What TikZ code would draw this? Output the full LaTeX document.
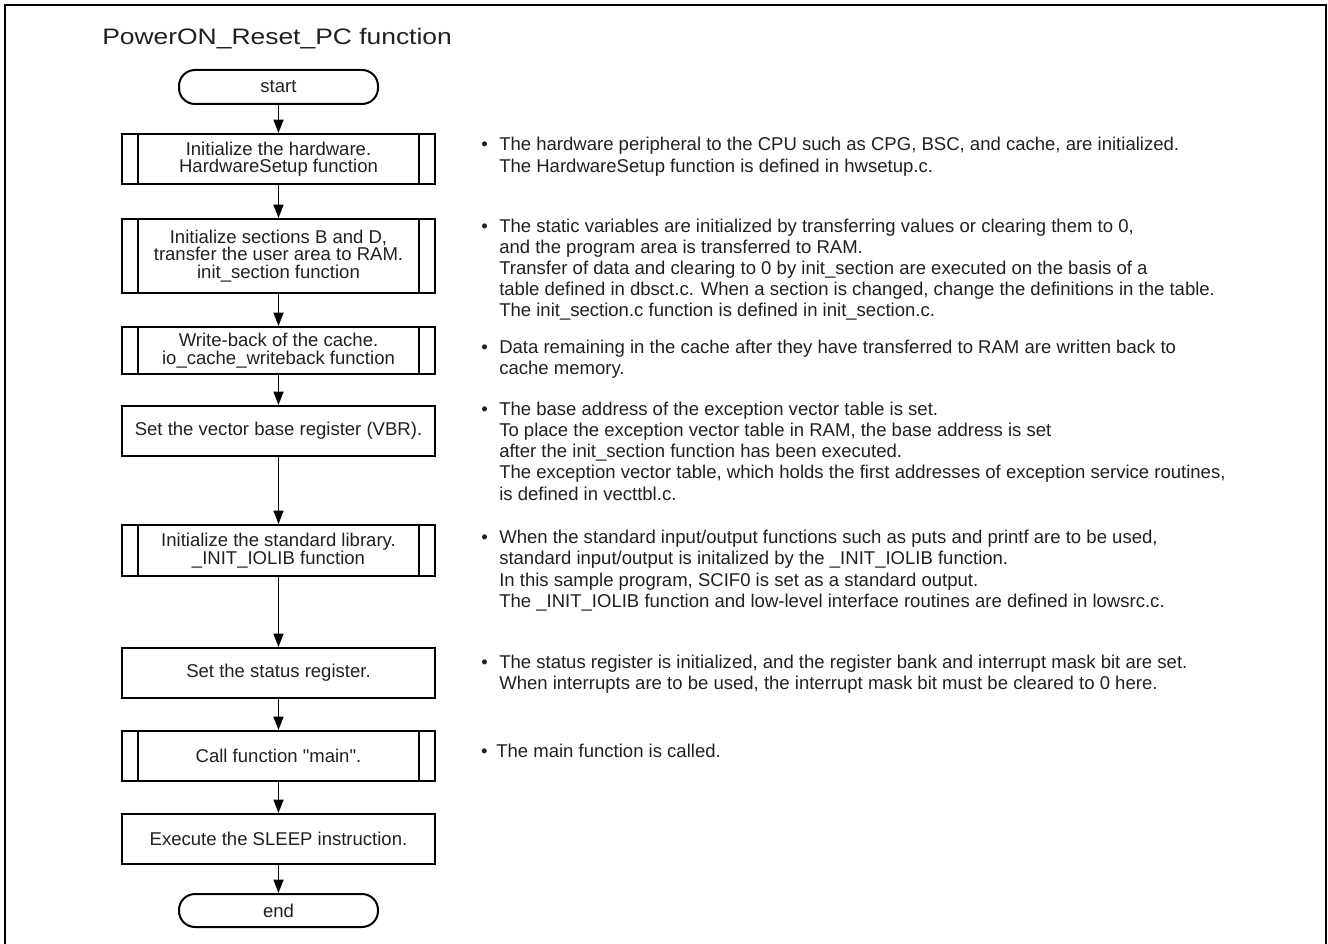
\documentclass[tikz,border=0pt]{standalone}
\usepackage{fontspec}
\setmainfont{Liberation Sans}[Ligatures=TeXOff]
\newfontfamily\titlefont[FakeStretch=1.18]{Liberation Sans}
\usetikzlibrary{arrows.meta}
\definecolor{ink}{RGB}{35,31,32}
\begin{document}
\begin{tikzpicture}[x=0.75pt,y=-0.75pt,
  box/.style={draw=black, line width=1.5pt, text=ink, minimum width=234.75pt, inner sep=0pt, align=center, font=\fontsize{13.9pt}{13.1pt}\selectfont},
  term/.style={box, rounded corners=12pt, minimum width=149.25pt},
  arr/.style={draw=black, line width=1pt, -{Triangle[length=10pt,width=7.5pt]}},
  sideline/.style={draw=black, line width=1.5pt},
  note/.style={anchor=north west, inner sep=0pt, align=left, text=ink, font=\fontsize{13.9pt}{15.9pt}\selectfont},
  frame/.style={draw=black, line width=1.5pt}
]
\useasboundingbox (0,0) rectangle (1328,944);
\draw[frame] (5,944) -- (5,5) -- (1326,5) -- (1326,944);

\node[anchor=base west, inner sep=0pt, text=ink, font=\titlefont\fontsize{16.8pt}{20pt}\selectfont] (title) at (102,44.3) {PowerON\_Reset\_PC function};

% flowchart
\node[term, minimum height=25.5pt] (start) at (278.5,87) {start};
\node[box, minimum height=37.5pt] (b1) at (278.5,159) {Initialize the hardware.\\HardwareSetup function};
\node[box, minimum height=55.5pt] (b2) at (278.5,256) {Initialize sections B and D,\\transfer the user area to RAM.\\init\_section function};
\node[box, minimum height=35.25pt] (b3) at (278.5,350.5) {Write-back of the cache.\\io\_cache\_writeback function};
\node[box, minimum height=37.5pt] (b4) at (278.5,431) {Set the vector base register (VBR).};
\node[box, minimum height=38.25pt] (b5) at (278.5,550.5) {Initialize the standard library.\\\_INIT\_IOLIB function};
\node[box, minimum height=37.5pt] (b6) at (278.5,673) {Set the status register.};
\node[box, minimum height=37.5pt] (b7) at (278.5,756) {Call function "main".};
\node[box, minimum height=37.5pt] (b8) at (278.5,839) {Execute the SLEEP instruction.};
\node[term, minimum height=24.75pt] (end) at (278.5,910.5) {end};

\foreach \n in {b1,b2,b3,b5,b7}{
  \draw[sideline] ([xshift=13pt]\n.north west) -- ([xshift=13pt]\n.south west);
  \draw[sideline] ([xshift=-13pt]\n.north east) -- ([xshift=-13pt]\n.south east);
}

\draw[arr] (start.south) -- (b1.north);
\draw[arr] (b1.south) -- (b2.north);
\draw[arr] (b2.south) -- (b3.north);
\draw[arr] (b3.south) -- (b4.north);
\draw[arr] (b4.south) -- (b5.north);
\draw[arr] (b5.south) -- (b6.north);
\draw[arr] (b6.south) -- (b7.north);
\draw[arr] (b7.south) -- (b8.north);
\draw[arr] (b8.south) -- (end.north);

% notes
\node[note] (n1) at (499,135.7) {\strut\llap{•\hspace{8.5pt}}The hardware peripheral to the CPU such as CPG, BSC, and cache, are initialized.\\The HardwareSetup function is defined in hwsetup.c.};
\node[note] (n2) at (499,216.9) {\strut\llap{•\hspace{8.5pt}}The static variables are initialized by transferring values or clearing them to 0,\\and the program area is transferred to RAM.\\Transfer of data and clearing to 0 by init\_section are executed on the basis of a\\table defined in dbsct.c. When a section is changed, change the definitions in the table.\\The init\_section.c function is defined in init\_section.c.};
\node[note] (n3) at (499,338.2) {\strut\llap{•\hspace{8.5pt}}Data remaining in the cache after they have transferred to RAM are written back to\\cache memory.};
\node[note] (n4) at (499,400.2) {\strut\llap{•\hspace{8.5pt}}The base address of the exception vector table is set.\\To place the exception vector table in RAM, the base address is set\\after the init\_section function has been executed.\\The exception vector table, which holds the first addresses of exception service routines,\\is defined in vecttbl.c.};
\node[note] (n5) at (499,528.5) {\strut\llap{•\hspace{8.5pt}}When the standard input/output functions such as puts and printf are to be used,\\standard input/output is initalized by the \_INIT\_IOLIB function.\\In this sample program, SCIF0 is set as a standard output.\\The \_INIT\_IOLIB function and low-level interface routines are defined in lowsrc.c.};
\node[note] (n6) at (499,653.5) {\strut\llap{•\hspace{8.5pt}}The status register is initialized, and the register bank and interrupt mask bit are set.\\When interrupts are to be used, the interrupt mask bit must be cleared to 0 here.};
\node[note] (n7) at (496,741.9) {\strut\llap{•\hspace{6.5pt}}The main function is called.};
\end{tikzpicture}
\end{document}
